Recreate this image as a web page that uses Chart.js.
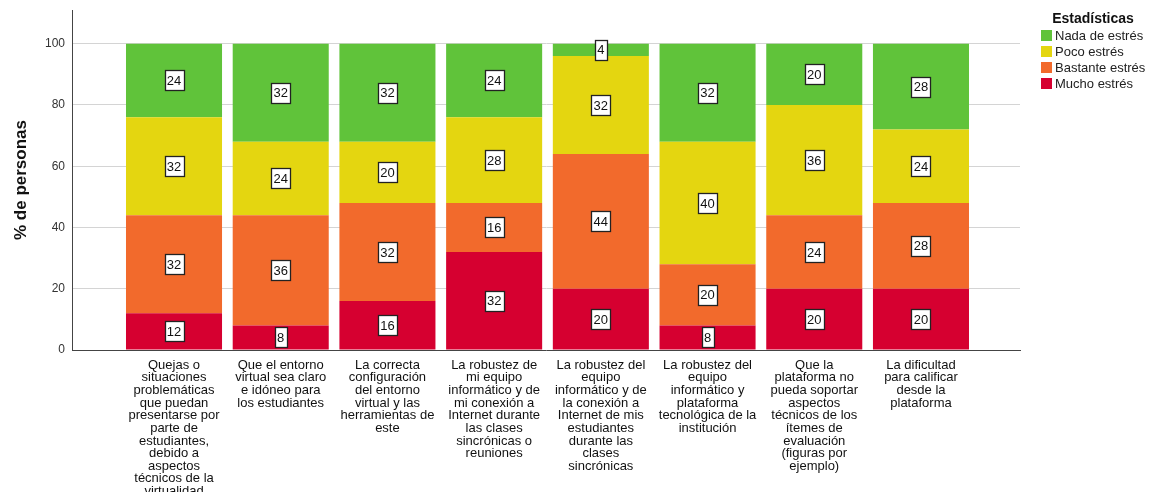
<!DOCTYPE html>
<html>
<head>
<meta charset="utf-8">
<script src="https://cdn.jsdelivr.net/npm/chart.js@4"></script>
<style>
  html, body { margin: 0; padding: 0; background: #fff; }
  #wrap { width: 1152px; height: 492px; }
</style>
</head>
<body>
<div id="wrap"><canvas id="chart"></canvas></div>
<script>
const categories = [
    ['Quejas o', 'situaciones', 'problemáticas', 'que puedan', 'presentarse por', 'parte de', 'estudiantes,', 'debido a', 'aspectos', 'técnicos de la', 'virtualidad'],
    ['Que el entorno', 'virtual sea claro', 'e idóneo para', 'los estudiantes'],
    ['La correcta', 'configuración', 'del entorno', 'virtual y las', 'herramientas de', 'este'],
    ['La robustez de', 'mi equipo', 'informático y de', 'mi conexión a', 'Internet durante', 'las clases', 'sincrónicas o', 'reuniones'],
    ['La robustez del', 'equipo', 'informático y de', 'la conexión a', 'Internet de mis', 'estudiantes', 'durante las', 'clases', 'sincrónicas'],
    ['La robustez del', 'equipo', 'informático y', 'plataforma', 'tecnológica de la', 'institución'],
    ['Que la', 'plataforma no', 'pueda soportar', 'aspectos', 'técnicos de los', 'ítemes de', 'evaluación', '(figuras por', 'ejemplo)'],
    ['La dificultad', 'para calificar', 'desde la', 'plataforma']
]

// stacked bottom -> top
const mucho = [12, 8, 16, 32, 20, 8, 20, 20]
const bastante = [32, 36, 32, 16, 44, 20, 24, 28]
const poco = [32, 24, 20, 28, 32, 40, 36, 24]
const nada = [24, 32, 32, 24, 4, 32, 20, 28]

const yTicks = [0, 20, 40, 60, 80, 100]

const toPoints = (arr) => arr.map((v, i) => ({x: i, y: v}))

Chart.defaults.font.family = '"Liberation Sans", Arial, sans-serif'
Chart.defaults.font.size = 12

// white boxed value labels in the middle of each segment
const boxLabels = {
    id: 'boxLabels',
    afterDatasetsDraw(chart) {
        const ctx = chart.ctx
        ctx.save()
        ctx.font = '13px "Liberation Sans", Arial, sans-serif'
        ctx.textAlign = 'center'
        ctx.textBaseline = 'middle'
        chart.data.datasets.forEach((ds, di) => {
            const meta = chart.getDatasetMeta(di)
            meta.data.forEach((bar, i) => {
                const val = ds.data[i].y
                const c = bar.getCenterPoint()
                const tw = ctx.measureText(String(val)).width
                const w = Math.round(tw + 5)
                const h = 20
                const x = Math.round(c.x - w / 2) + 0.5
                const y = Math.round(c.y - h / 2) + 0.5
                ctx.fillStyle = '#fff'
                ctx.fillRect(x, y, w, h)
                ctx.strokeStyle = '#222'
                ctx.lineWidth = 1.3
                ctx.strokeRect(x, y, w, h)
                ctx.fillStyle = '#111'
                ctx.fillText(String(val), c.x, c.y + 1)
            })
        })
        ctx.restore()
    }
}

// legend on the right, top-aligned, with bold title
const sideLegend = {
    id: 'sideLegend',
    afterDraw(chart) {
        const ctx = chart.ctx
        ctx.save()
        ctx.fillStyle = '#111'
        ctx.textAlign = 'center'
        ctx.textBaseline = 'middle'
        ctx.font = 'bold 14px "Liberation Sans", Arial, sans-serif'
        ctx.fillText('Estadísticas', 1093, 19)
        ctx.font = '13px "Liberation Sans", Arial, sans-serif'
        ctx.textAlign = 'left'
        const items = chart.data.datasets.slice().reverse()
        items.forEach((ds, i) => {
            const cy = 36 + i * 16
            ctx.fillStyle = ds.backgroundColor
            ctx.fillRect(1041, cy - 6, 11, 11)
            ctx.fillStyle = '#222'
            ctx.fillText(ds.label, 1055, cy)
        })
        ctx.restore()
    }
}

new Chart(document.getElementById('chart'), {
    type: 'bar',
    data: {
        datasets: [
            {label: 'Mucho estrés', data: toPoints(mucho), backgroundColor: 'rgb(214, 0, 48)'},
            {label: 'Bastante estrés', data: toPoints(bastante), backgroundColor: 'rgb(242, 106, 44)'},
            {label: 'Poco estrés', data: toPoints(poco), backgroundColor: 'rgb(228, 214, 16)'},
            {label: 'Nada de estrés', data: toPoints(nada), backgroundColor: 'rgb(96, 195, 58)'}
        ]
    },
    options: {
        responsive: true,
        maintainAspectRatio: false,
        animation: false,
        layout: {padding: {top: 10, right: 132, left: 0, bottom: 0}},
        datasets: {bar: {barPercentage: 0.9, categoryPercentage: 1.0, borderWidth: 0}},
        scales: {
            x: {
                type: 'linear',
                stacked: true,
                offset: false,
                min: -0.956,
                max: 7.928,
                afterBuildTicks: (s) => { s.ticks = categories.map((c, i) => ({value: i})) },
                afterFit: (s) => { s.height = 142; s.paddingLeft = 0; s.paddingRight = 0 },
                grid: {display: false, drawTicks: false, offset: false},
                border: {display: true, color: '#444', width: 1},
                ticks: {
                    autoSkip: false,
                    maxRotation: 0,
                    minRotation: 0,
                    padding: 9,
                    color: '#111',
                    font: {size: 13, lineHeight: 0.97},
                    callback: (value) => categories[value]
                }
            },
            y: {
                stacked: true,
                min: 0,
                max: 111,
                afterBuildTicks: (s) => { s.ticks = yTicks.map(v => ({value: v})) },
                afterFit: (s) => { s.width = 72; s.paddingTop = 0; s.paddingBottom = 0 },
                grid: {color: '#d4d4d4', lineWidth: 1, drawTicks: false},
                border: {display: true, color: '#444', width: 1},
                ticks: {padding: 7, color: '#333', font: {size: 12}},
                title: {
                    display: true,
                    text: '% de personas',
                    color: '#111',
                    font: {size: 17, weight: 'bold'},
                    padding: {top: 11, bottom: 0}
                }
            }
        },
        plugins: {
            legend: {display: false},
            tooltip: {enabled: false}
        }
    },
    plugins: [boxLabels, sideLegend]
})
</script>
</body>
</html>
